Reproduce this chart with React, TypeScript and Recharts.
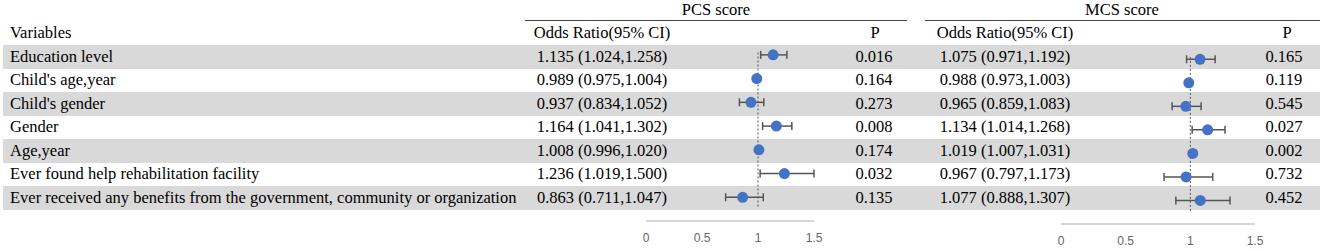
import { ErrorBar, ReferenceLine, Scatter, ScatterChart, XAxis, YAxis } from 'recharts';

const variables = [
  'Education level',
  "Child's age,year",
  "Child's gender",
  'Gender',
  'Age,year',
  'Ever found help rehabilitation facility',
  'Ever received any benefits from the government, community or organization',
];

const pcsOr = [1.135, 0.989, 0.937, 1.164, 1.008, 1.236, 0.863];
const pcsLow = [1.024, 0.975, 0.834, 1.041, 0.996, 1.019, 0.711];
const pcsHigh = [1.258, 1.004, 1.052, 1.302, 1.02, 1.5, 1.047];
const pcsP = ['0.016', '0.164', '0.273', '0.008', '0.174', '0.032', '0.135'];

const mcsOr = [1.075, 0.988, 0.965, 1.134, 1.019, 0.967, 1.077];
const mcsLow = [0.971, 0.973, 0.859, 1.014, 1.007, 0.797, 0.888];
const mcsHigh = [1.192, 1.003, 1.083, 1.268, 1.031, 1.173, 1.307];
const mcsP = ['0.165', '0.119', '0.545', '0.027', '0.002', '0.732', '0.452'];

const axisTicks = [0, 0.5, 1, 1.5];

const ROW_TOP = 45;
const ROW_H = 23.5;
const SERIF = '"Liberation Serif", "Times New Roman", serif';
const SANS = '"Liberation Sans", Arial, sans-serif';

const fmt = (v: number) => v.toFixed(3);
const orText = (or: number[], lo: number[], hi: number[], i: number) =>
  `${fmt(or[i])} (${fmt(lo[i])},${fmt(hi[i])})`;

function Txt({
  x,
  y,
  center,
  children,
}: {
  x: number;
  y: number;
  center?: boolean;
  children: React.ReactNode;
}) {
  return (
    <div
      style={{
        position: 'absolute',
        left: x,
        top: y - 12,
        height: 24,
        lineHeight: '24px',
        whiteSpace: 'nowrap',
        transform: center ? 'translateX(-50%)' : undefined,
      }}
    >
      {children}
    </div>
  );
}

function Forest({
  or,
  lo,
  hi,
  left,
  width,
  top,
  right,
  marginLeft,
  axisY,
}: {
  or: number[];
  lo: number[];
  hi: number[];
  left: number;
  width: number;
  top: number;
  right: number;
  marginLeft: number;
  axisY: number;
}) {
  const data = or.map((v, i) => ({
    x: v,
    y: i + 0.5,
    err: [v - lo[i], hi[i] - v],
  }));
  return (
    <div style={{ position: 'absolute', left, top: 0 }}>
      <ScatterChart
        width={width}
        height={250}
        margin={{ top, right, bottom: 0, left: marginLeft }}
      >
        <XAxis
          type='number'
          dataKey='x'
          domain={[0, 1.5]}
          ticks={axisTicks}
          allowDataOverflow
          height={250 - axisY}
          tickLine={false}
          tickMargin={6}
          axisLine={{ stroke: '#c8c8c8', strokeWidth: 1.5 }}
          tick={{ fill: '#666', fontSize: 12, fontFamily: SANS }}
        />
        <YAxis type='number' dataKey='y' domain={[0, 7.5]} reversed hide />
        <ReferenceLine
          segment={[
            { x: 1, y: 0.4 },
            { x: 1, y: 6.95 },
          ]}
          stroke='#555'
          strokeDasharray='2 2'
        />
        <Scatter
          data={data}
          isAnimationActive={false}
          fill='#4472C4'
          shape={(p: any) => <circle cx={p.cx} cy={p.cy} r={5.5} fill='#4472C4' />}
        >
          <ErrorBar
            dataKey='err'
            direction='x'
            width={4}
            stroke='#555'
            strokeWidth={1.5}
            isAnimationActive={false}
          />
        </Scatter>
      </ScatterChart>
    </div>
  );
}

export default function App() {
  return (
    <div
      style={{
        position: 'absolute',
        left: 0,
        top: 0,
        width: 1325,
        height: 250,
        background: '#fff',
        fontFamily: SERIF,
        fontSize: 16.5,
        color: '#000',
        overflow: 'hidden',
      }}
    >
      {variables.map((_, i) =>
        i % 2 === 0 ? (
          <div
            key={`band-${i}`}
            style={{
              position: 'absolute',
              left: 3,
              top: ROW_TOP + i * ROW_H,
              width: 1317,
              height: ROW_H,
              background: '#d9d9d9',
            }}
          />
        ) : null,
      )}

      <div style={{ position: 'absolute', left: 525, top: 20, width: 382, height: 1, background: '#444' }} />
      <div style={{ position: 'absolute', left: 925, top: 20, width: 395, height: 1, background: '#444' }} />

      <Txt x={716} y={10} center>PCS score</Txt>
      <Txt x={1122} y={10} center>MCS score</Txt>
      <Txt x={10} y={33}>Variables</Txt>
      <Txt x={602} y={33} center>Odds Ratio(95% CI)</Txt>
      <Txt x={875} y={33} center>P</Txt>
      <Txt x={1005} y={33} center>Odds Ratio(95% CI)</Txt>
      <Txt x={1287} y={33} center>P</Txt>

      {variables.map((v, i) => {
        const cy = ROW_TOP + i * ROW_H + ROW_H / 2;
        return (
          <div key={v}>
            <Txt x={10} y={cy}>{v}</Txt>
            <Txt x={602} y={cy} center>{orText(pcsOr, pcsLow, pcsHigh, i)}</Txt>
            <Txt x={874} y={cy} center>{pcsP[i]}</Txt>
            <Txt x={1005} y={cy} center>{orText(mcsOr, mcsLow, mcsHigh, i)}</Txt>
            <Txt x={1284} y={cy} center>{mcsP[i]}</Txt>
          </div>
        );
      })}

      <Forest or={pcsOr} lo={pcsLow} hi={pcsHigh} left={600} width={260} top={43} right={46} marginLeft={46} axisY={221} />
      <Forest or={mcsOr} lo={mcsLow} hi={mcsHigh} left={1010} width={300} top={47.5} right={55} marginLeft={51} axisY={224} />
    </div>
  );
}
